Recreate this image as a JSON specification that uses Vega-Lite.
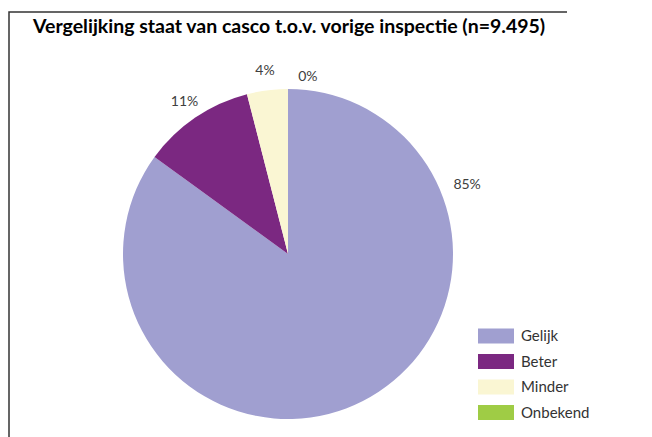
{
  "$schema": "https://vega.github.io/schema/vega-lite/v6.json",
  "width": 558,
  "height": 484,
  "autosize": {"type": "none"},
  "padding": {"left": 9, "top": 12, "right": 85, "bottom": 0},
  "background": "white",
  "view": {"stroke": "#333333", "strokeWidth": 1.5, "strokeDash": [558, 1042, 484]},
  "title": {
    "text": "Vergelijking staat van casco t.o.v. vorige inspectie (n=9.495)",
    "anchor": "start",
    "frame": "group",
    "font": "Lato",
    "fontSize": 19.5,
    "fontWeight": "bold",
    "color": "#000000",
    "baseline": "alphabetic",
    "offset": -40,
    "dx": 24
  },
  "config": {
    "legend": {"padding": 0}
  },
  "data": {
    "values": [
      {"categorie": "Gelijk", "percentage": 85, "volgorde": 1, "label": "85%"},
      {"categorie": "Beter", "percentage": 11, "volgorde": 2, "label": "11%"},
      {"categorie": "Minder", "percentage": 4, "volgorde": 3, "label": "4%"},
      {"categorie": "Onbekend", "percentage": 0, "volgorde": 4, "label": "0%"}
    ]
  },
  "encoding": {
    "theta": {"field": "percentage", "type": "quantitative", "stack": true},
    "order": {"field": "volgorde", "type": "quantitative"}
  },
  "layer": [
    {
      "mark": {"type": "arc", "outerRadius": 165},
      "encoding": {
        "color": {
          "field": "categorie",
          "type": "nominal",
          "scale": {
            "domain": ["Gelijk", "Beter", "Minder", "Onbekend"],
            "range": ["#A09FD0", "#7B2881", "#FAF6D3", "#9FCC45"]
          },
          "legend": {
            "title": null,
            "orient": "none",
            "legendX": 479.5,
            "legendY": 316.5,
            "symbolType": "M-2.4,-1H2.4V1H-2.4Z",
            "symbolSize": 225,
            "symbolStrokeWidth": 0,
            "labelFont": "Lato",
            "labelFontSize": 15,
            "labelColor": "#333333",
            "labelOffset": 17.5,
            "rowPadding": 9.5
          }
        }
      }
    },
    {
      "mark": {"type": "text", "radius": 184, "font": "Lato", "fontSize": 14, "color": "#404040"},
      "encoding": {
        "text": {
          "condition": {"test": "datum.categorie == 'Beter' || datum.categorie == 'Minder'", "field": "label"},
          "value": ""
        }
      }
    },
    {
      "mark": {"type": "text", "radius": 192, "thetaOffset": -1.468, "font": "Lato", "fontSize": 14, "color": "#404040"},
      "encoding": {
        "text": {
          "condition": {"test": "datum.categorie == 'Gelijk'", "field": "label"},
          "value": ""
        }
      }
    },
    {
      "mark": {"type": "text", "radius": 178, "thetaOffset": 0.112, "font": "Lato", "fontSize": 14, "color": "#404040"},
      "encoding": {
        "text": {
          "condition": {"test": "datum.categorie == 'Onbekend'", "field": "label"},
          "value": ""
        }
      }
    }
  ]
}
